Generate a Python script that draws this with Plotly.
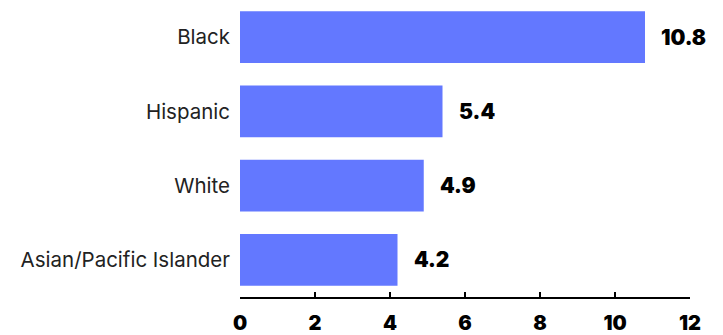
import plotly.graph_objects as go

categories = ["Black", "Hispanic", "White", "Asian/Pacific Islander"]
values = [10.8, 5.4, 4.9, 4.2]
value_labels = ["10.8", "5.4", "4.9", "4.2"]
tick_vals = [0, 2, 4, 6, 8, 10, 12]

bar_color = "#6378FF"

fig = go.Figure()
fig.add_trace(go.Bar(
    x=values, y=categories, orientation="h",
    marker=dict(color=bar_color, line=dict(width=0)),
    hoverinfo="skip",
))

for c, v, t in zip(categories, values, value_labels):
    fig.add_annotation(
        x=v, y=c, text=t, showarrow=False, xanchor="left", xshift=14,
        font=dict(family="Inter", size=21, color="#000000", weight=900),
    )

fig.update_layout(
    width=723, height=335,
    margin=dict(l=240, r=33, t=0, b=38),
    paper_bgcolor="white", plot_bgcolor="white",
    bargap=0.3,
    showlegend=False,
    xaxis=dict(
        range=[0, 12], tickvals=tick_vals, ticktext=[str(t) for t in tick_vals],
        showgrid=False, zeroline=False,
        showline=True, linecolor="#000000", linewidth=2,
        ticks="inside", ticklen=5, tickwidth=2, tickcolor="#000000",
        ticklabelstandoff=7,
        tickfont=dict(family="Inter", size=20, color="#000000", weight=900),
        automargin=False,
        fixedrange=True,
    ),
    yaxis=dict(
        categoryorder="array", categoryarray=categories[::-1],
        range=[-0.5, 3.5],
        showgrid=False, zeroline=False, showline=False,
        ticks="", ticklabelstandoff=9,
        tickfont=dict(family="Inter", size=20.5, color="#222222"),
        automargin=False,
        fixedrange=True,
    ),
)

fig.write_html("out.html")
